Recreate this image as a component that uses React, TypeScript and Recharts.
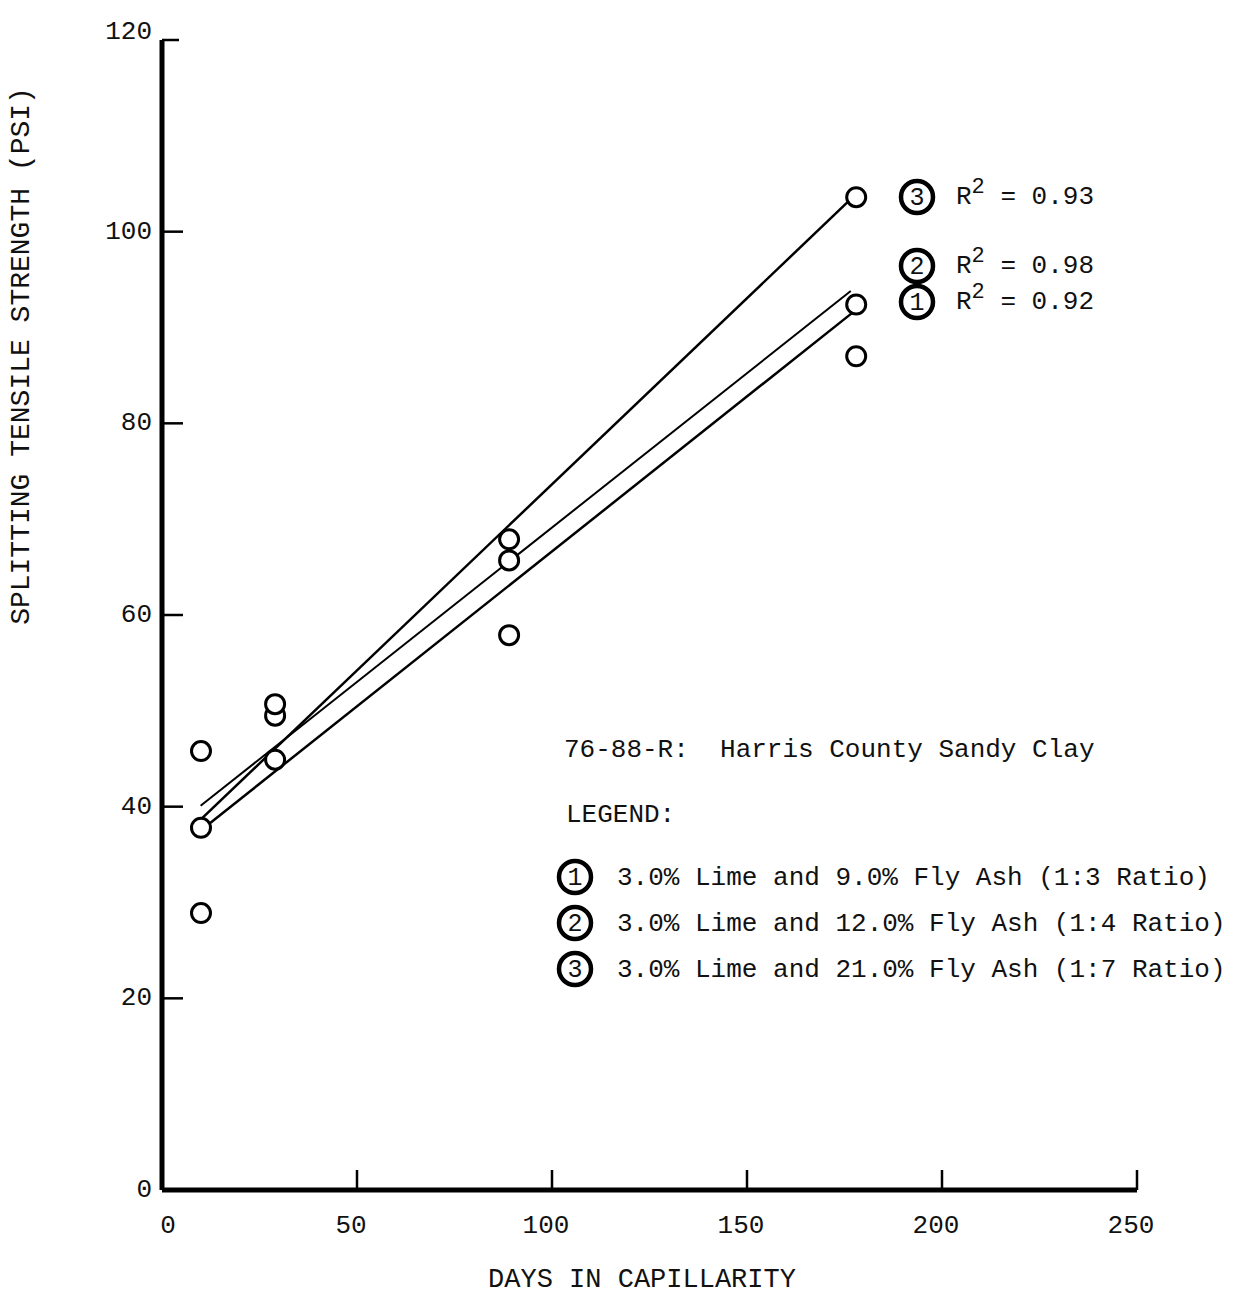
import React from 'react';
import { ComposedChart, XAxis, YAxis, Scatter, Line } from 'recharts';

// Test ages (days in capillarity)
const days = [10, 29, 89, 178];

// Splitting tensile strength (psi) for each lime / fly ash mix
const mix1Strength = [45.8, 49.5, 57.9, 87.0];
const mix2Strength = [37.8, 44.9, 65.7, 92.4];
const mix3Strength = [28.9, 50.7, 67.9, 103.6];

// Fitted trend lines: end points (day, psi)
const fit1Days = [10.5, 176.9];
const fit1Psi = [37.7, 91.5];
const fit2Days = [9.9, 176.6];
const fit2Psi = [40.1, 93.8];
const fit3Days = [10.3, 177.4];
const fit3Psi = [38.8, 103.7];

const xTicks = [0, 50, 100, 150, 200, 250];
const yTicks = [0, 20, 40, 60, 80, 100, 120];

const rSquaredLabels = ['0.92', '0.98', '0.93'];
const legendItems = [
  '3.0% Lime and 9.0% Fly Ash (1:3 Ratio)',
  '3.0% Lime and 12.0% Fly Ash (1:4 Ratio)',
  '3.0% Lime and 21.0% Fly Ash (1:7 Ratio)',
];

const toPoints = (xs: number[], ys: number[]) => xs.map((d, i) => ({ day: d, psi: ys[i] }));

const W = 1250;
const H = 1299;
const PLOT_LEFT = 162;
const PLOT_BOTTOM = 1190;
const FONT = '"Liberation Mono", "DejaVu Sans Mono", monospace';
const INK = '#111';

const YTick = (props: any) => {
  const { y, payload } = props;
  const v = payload.value;
  const isTop = v === 120;
  return (
    <g>
      {v !== 0 && (
        <line x1={PLOT_LEFT} x2={PLOT_LEFT + (isTop ? 17 : 21)} y1={y} y2={y} stroke="#000" strokeWidth={2.5} />
      )}
      <text
        x={152}
        y={isTop ? y - 8 : y}
        textAnchor="end"
        dominantBaseline="central"
        fontFamily={FONT}
        fontSize={26}
        fill={INK}
      >
        {v}
      </text>
    </g>
  );
};

const XTick = (props: any) => {
  const { x, payload } = props;
  const v = payload.value;
  return (
    <g>
      {v !== 0 && (
        <line x1={x} x2={x} y1={PLOT_BOTTOM} y2={PLOT_BOTTOM - 20} stroke="#000" strokeWidth={2.5} />
      )}
      <text
        x={v === 0 ? x + 6 : x - 6}
        y={1226}
        textAnchor="middle"
        dominantBaseline="central"
        fontFamily={FONT}
        fontSize={26}
        fill={INK}
      >
        {v}
      </text>
    </g>
  );
};

const OpenCircle = (props: any) => {
  const { cx, cy } = props;
  if (cx == null || cy == null) return null;
  return <circle cx={cx} cy={cy} r={9.5} fill="#fff" stroke="#000" strokeWidth={3} />;
};

const CircledNumber = ({ x, y, n }: { x: number; y: number; n: number }) => (
  <g>
    <circle cx={x} cy={y} r={16} fill="#fff" stroke="#000" strokeWidth={4.5} />
    <text x={x} y={y + 1} textAnchor="middle" dominantBaseline="central" fontFamily={FONT} fontSize={25} fill={INK}>
      {n}
    </text>
  </g>
);

const RSquared = ({ x, y, value }: { x: number; y: number; value: string }) => (
  <text x={x} y={y} fontFamily={FONT} fontSize={26} fill={INK} dominantBaseline="central">
    <tspan>R</tspan>
    <tspan dy={-10} fontSize={22}>2</tspan>
    <tspan dy={10}>{` = ${value}`}</tspan>
  </text>
);

export default function App() {
  const mix1 = toPoints(days, mix1Strength);
  const mix2 = toPoints(days, mix2Strength);
  const mix3 = toPoints(days, mix3Strength);
  const fit1 = toPoints(fit1Days, fit1Psi);
  const fit2 = toPoints(fit2Days, fit2Psi);
  const fit3 = toPoints(fit3Days, fit3Psi);

  return (
    <div style={{ position: 'absolute', left: 0, top: 0, width: W, height: H, background: '#fff' }}>
      <ComposedChart width={W} height={H} margin={{ top: 40, right: 113, bottom: 49, left: 62 }}>
        <XAxis
          type="number"
          dataKey="day"
          domain={[0, 250]}
          ticks={xTicks}
          height={60}
          axisLine={{ stroke: '#000', strokeWidth: 5 }}
          tickLine={false}
          tick={<XTick />}
          interval={0}
        />
        <YAxis
          type="number"
          dataKey="psi"
          domain={[0, 120]}
          ticks={yTicks}
          width={100}
          axisLine={{ stroke: '#000', strokeWidth: 5 }}
          tickLine={false}
          tick={<YTick />}
          interval={0}
        />
        <Line data={fit1} dataKey="psi" type="linear" stroke="#000" strokeWidth={2.5} dot={false} isAnimationActive={false} />
        <Line data={fit2} dataKey="psi" type="linear" stroke="#000" strokeWidth={2} dot={false} isAnimationActive={false} />
        <Line data={fit3} dataKey="psi" type="linear" stroke="#000" strokeWidth={2.5} dot={false} isAnimationActive={false} />
        <Scatter data={mix1} dataKey="psi" shape={<OpenCircle />} isAnimationActive={false} />
        <Scatter data={mix2} dataKey="psi" shape={<OpenCircle />} isAnimationActive={false} />
        <Scatter data={mix3} dataKey="psi" shape={<OpenCircle />} isAnimationActive={false} />
      </ComposedChart>

      <svg width={W} height={H} style={{ position: 'absolute', left: 0, top: 0, pointerEvents: 'none' }}>
        {/* axis titles */}
        <text
          x={642}
          y={1280}
          textAnchor="middle"
          dominantBaseline="central"
          fontFamily={FONT}
          fontSize={27}
          fill={INK}
        >
          DAYS IN CAPILLARITY
        </text>
        <text
          transform="translate(21,356) rotate(-90)"
          textAnchor="middle"
          dominantBaseline="central"
          fontFamily={FONT}
          fontSize={28}
          fill={INK}
        >
          SPLITTING TENSILE STRENGTH (PSI)
        </text>

        {/* R-squared notes beside the fitted lines */}
        <CircledNumber x={917} y={197} n={3} />
        <RSquared x={956} y={197} value={rSquaredLabels[2]} />
        <CircledNumber x={917} y={266} n={2} />
        <RSquared x={956} y={266} value={rSquaredLabels[1]} />
        <CircledNumber x={917} y={302} n={1} />
        <RSquared x={956} y={302} value={rSquaredLabels[0]} />

        {/* soil description and legend */}
        <text x={564} y={750} dominantBaseline="central" fontFamily={FONT} fontSize={26} fill={INK} style={{ whiteSpace: 'pre' }}>
          {'76-88-R:  Harris County Sandy Clay'}
        </text>
        <text x={566} y={815} dominantBaseline="central" fontFamily={FONT} fontSize={26} fill={INK}>
          LEGEND:
        </text>
        {legendItems.map((t, i) => (
          <g key={t}>
            <CircledNumber x={575} y={877 + i * 46} n={i + 1} />
            <text x={617} y={878 + i * 46} dominantBaseline="central" fontFamily={FONT} fontSize={26} fill={INK}>
              {t}
            </text>
          </g>
        ))}
      </svg>
    </div>
  );
}
